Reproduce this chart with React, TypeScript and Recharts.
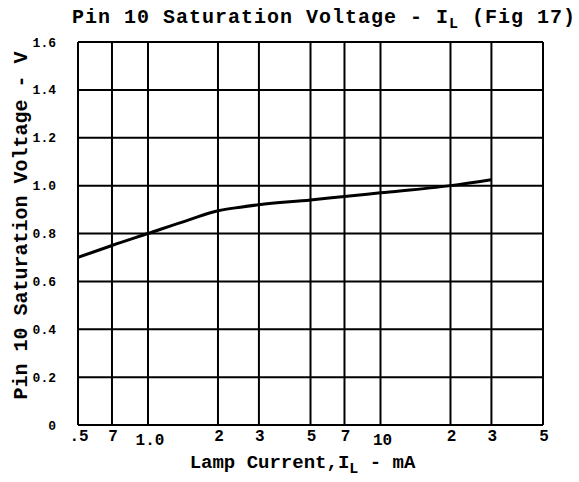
import React from 'react'
import { LineChart, Line, XAxis, YAxis, CartesianGrid } from 'recharts'

// lamp current (mA) vs pin 10 saturation voltage (V)
const current = [0.5, 0.7, 1, 1.5, 2, 2.5, 3, 5, 7, 10, 20, 30]
const voltage = [0.7, 0.75, 0.8, 0.857, 0.895, 0.91, 0.92, 0.94, 0.955, 0.97, 1.0, 1.025]

const xTicks = [0.5, 0.7, 1, 2, 3, 5, 7, 10, 20, 30, 50]
const xTickLabels = ['.5', '7', '1.0', '2', '3', '5', '7', '10', '2', '3', '5']
const yTicks = [0, 0.2, 0.4, 0.6, 0.8, 1.0, 1.2, 1.4, 1.6]

const data = current.map((c, i) => ({ current: c, voltage: voltage[i] }))

const FONT = "'Liberation Mono', 'DejaVu Sans Mono', monospace"

function XTick(props: any) {
    const { x, y, payload, index } = props
    const label = xTickLabels[index] ?? String(payload.value)
    const decade = payload.value === 1 || payload.value === 10
    return (
        <text
            x={x + (decade ? 2 : 1)}
            y={y + (decade ? 12 : 8)}
            textAnchor="middle"
            fontFamily={FONT}
            fontWeight="bold"
            fontSize={16}
            fill="#000"
        >
            {label}
        </text>
    )
}

function YTitle(props: any) {
    const { viewBox } = props
    const cx = viewBox.x + 21
    const cy = viewBox.y + viewBox.height / 2 - 8
    return (
        <text
            x={cx}
            y={cy}
            transform={`rotate(-90 ${cx} ${cy})`}
            textAnchor="middle"
            dominantBaseline="central"
            fontFamily={FONT}
            fontWeight="bold"
            fontSize={20}
            fill="#000"
        >
            Pin 10 Saturation Voltage - V
        </text>
    )
}

function XTitle(props: any) {
    const { viewBox } = props
    return (
        <text
            x={viewBox.x + viewBox.width / 2 - 8}
            y={viewBox.y + 43}
            textAnchor="middle"
            fontFamily={FONT}
            fontWeight="bold"
            fontSize={19}
            fill="#000"
        >
            Lamp Current,I<tspan dy={5} fontSize={15}>L</tspan>
            <tspan dy={-5}> - mA</tspan>
        </text>
    )
}

export default function App() {
    return (
        <div style={{ position: 'relative', width: 579, height: 482, background: '#fff' }}>
            <style>{'body{margin:0}'}</style>
            <div
                style={{
                    position: 'absolute',
                    left: 72,
                    top: 6,
                    fontFamily: FONT,
                    fontWeight: 'bold',
                    fontSize: 20,
                    letterSpacing: 1,
                    whiteSpace: 'nowrap',
                    color: '#000',
                }}
            >
                Pin 10 Saturation Voltage - I<sub style={{ fontSize: 15 }}>L</sub> (Fig 17)
            </div>
            <LineChart width={579} height={482} data={data} margin={{ top: 42, right: 36, bottom: 0, left: 0 }}>
                <CartesianGrid stroke="#000" strokeWidth={2} />
                <XAxis
                    dataKey="current"
                    type="number"
                    scale="log"
                    domain={[0.5, 50]}
                    ticks={xTicks}
                    interval={0}
                    allowDataOverflow
                    height={57}
                    axisLine={false}
                    tickLine={false}
                    tick={<XTick />}
                    label={<XTitle />}
                />
                <YAxis
                    type="number"
                    domain={[0, 1.6]}
                    ticks={yTicks}
                    interval={0}
                    width={78}
                    axisLine={false}
                    tickLine={false}
                    tickMargin={16}
                    tickFormatter={(v: number) => (v === 0 ? '0' : v.toFixed(1))}
                    tick={{ fill: '#000', fontSize: 13, fontWeight: 'bold', fontFamily: FONT }}
                    label={<YTitle />}
                />
                <Line
                    type="monotone"
                    dataKey="voltage"
                    stroke="#000"
                    strokeWidth={3}
                    dot={false}
                    isAnimationActive={false}
                />
            </LineChart>
        </div>
    )
}
